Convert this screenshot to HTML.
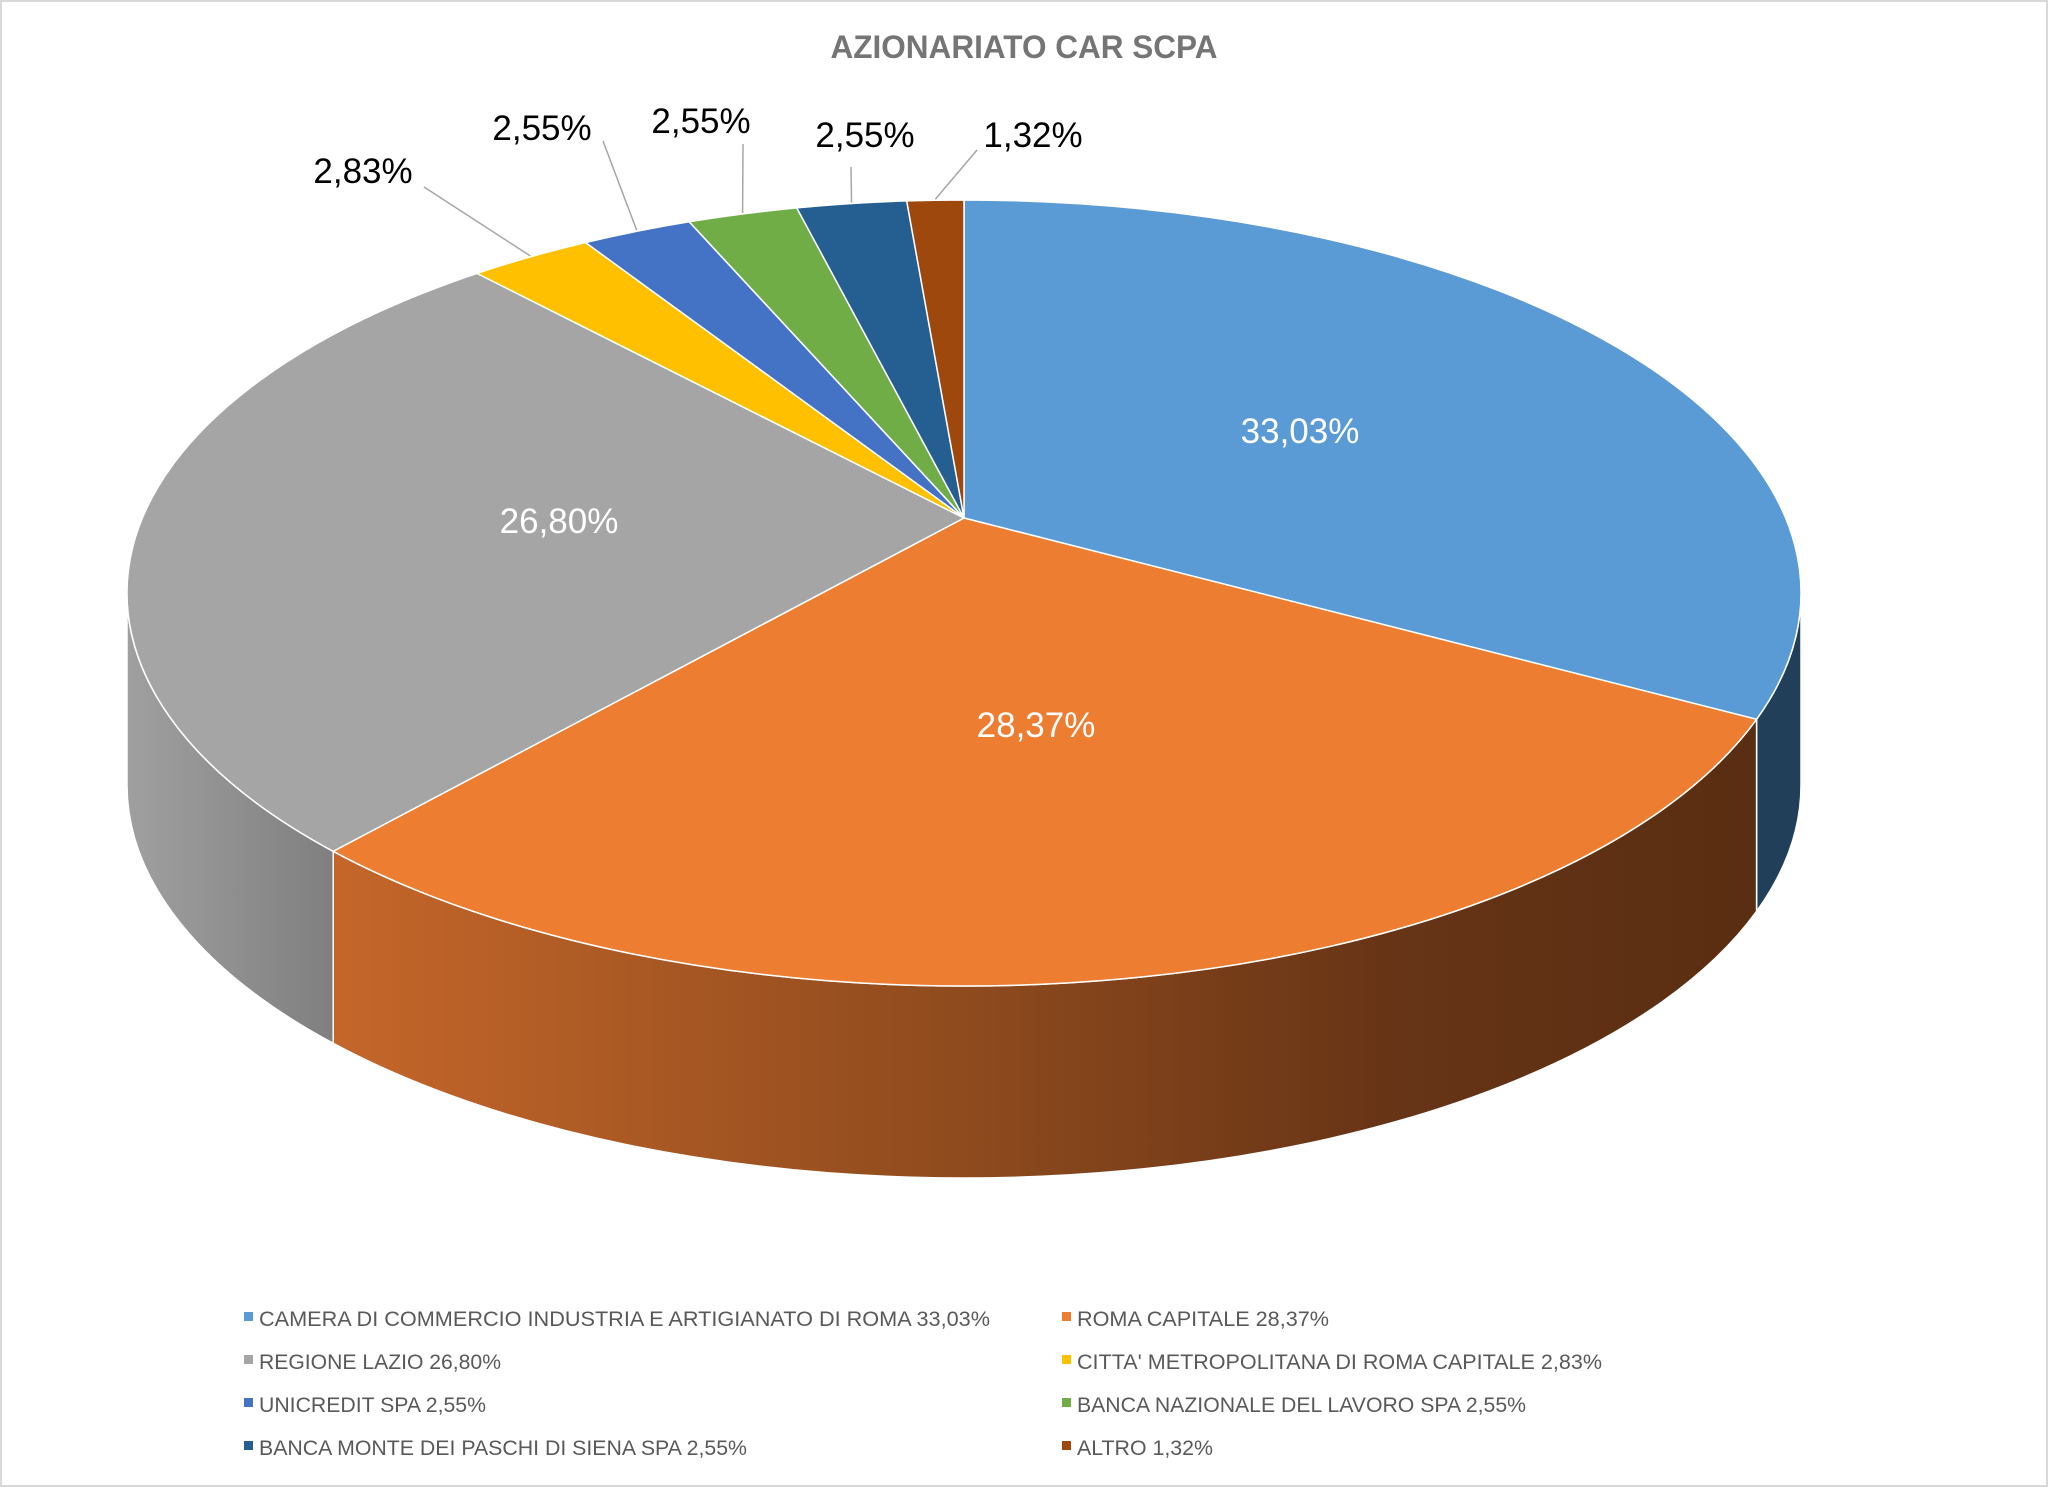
<!DOCTYPE html>
<html><head><meta charset="utf-8"><style>
html,body{margin:0;padding:0;background:#fff}
svg{display:block}
text{font-family:"Liberation Sans",sans-serif}
</style></head><body>
<svg id="chart" width="2048" height="1487" viewBox="0 0 2048 1487" xmlns="http://www.w3.org/2000/svg">
<defs>
<linearGradient id="gOrange" x1="340" y1="0" x2="1740" y2="0" gradientUnits="userSpaceOnUse">
<stop offset="0" stop-color="#c4662a"/><stop offset="0.45" stop-color="#8e4a1d"/><stop offset="0.75" stop-color="#673416"/><stop offset="1" stop-color="#5a2e12"/></linearGradient>
<linearGradient id="gGray" x1="125" y1="0" x2="355" y2="0" gradientUnits="userSpaceOnUse">
<stop offset="0" stop-color="#a0a0a0"/><stop offset="1" stop-color="#7c7c7c"/></linearGradient>
</defs>
<rect x="1" y="1" width="2046" height="1485" fill="#fff" stroke="#d9d9d9" stroke-width="2"/>
<text x="1024" y="58" text-anchor="middle" font-size="32" font-weight="bold" fill="#757575" textLength="387" lengthAdjust="spacingAndGlyphs">AZIONARIATO CAR SCPA</text>
<g id="walls"></g>
<g id="slices"></g>
<g id="labels"></g>
<g id="legend"></g>
</svg>
<script>
const categories = ["CAMERA DI COMMERCIO INDUSTRIA E ARTIGIANATO DI ROMA","ROMA CAPITALE","REGIONE LAZIO","CITTA' METROPOLITANA DI ROMA CAPITALE","UNICREDIT SPA","BANCA NAZIONALE DEL LAVORO SPA","BANCA MONTE DEI PASCHI DI SIENA SPA","ALTRO"];
const values = [33.03,28.37,26.80,2.83,2.55,2.55,2.55,1.32];
const valueLabels = ["33,03%","28,37%","26,80%","2,83%","2,55%","2,55%","2,55%","1,32%"];

const colors = ["#5b9bd5","#ed7d31","#a5a5a5","#ffc000","#4472c4","#70ad47","#255e91","#9e480e"];
const wallFills = ["#213f58","url(#gOrange)","url(#gGray)","#b38700","#2f5089","#4e7a32","#1a4266","#6f3209"];
const ax=964, ay=518, cx=964, cy=593, rx=837, ry=393, depth=192, k=0.46;
const NS="http://www.w3.org/2000/svg";
function mk(tag,attrs,parent){const e=document.createElementNS(NS,tag);for(const a in attrs)e.setAttribute(a,attrs[a]);parent.appendChild(e);return e;}
function rim(deg){
  const r=deg*Math.PI/180;
  const dx=Math.sin(r)/rx, dy=-k*Math.cos(r)/ry, ox=(ax-cx)/rx, oy=(ay-cy)/ry;
  const a=dx*dx+dy*dy, b=2*(ox*dx+oy*dy), c=ox*ox+oy*oy-1;
  const t=(-b+Math.sqrt(b*b-4*a*c))/(2*a);
  return [ax+t*Math.sin(r), ay-t*k*Math.cos(r)];
}
function phi(p){let f=Math.atan2((p[0]-cx)/rx, -(p[1]-cy)/ry)*180/Math.PI; if(f<0)f+=360; return f;}
function E(f,dy){const r=f*Math.PI/180;return [cx+rx*Math.sin(r), cy-ry*Math.cos(r)+(dy||0)];}
const total=values.reduce((a,b)=>a+b,0);
const walls=document.getElementById('walls'), slices=document.getElementById('slices'), labels=document.getElementById('labels'), legend=document.getElementById('legend');
let acc=0; const angles=[];
values.forEach(v=>{const a0=acc/total*360; acc+=v; const a1=acc/total*360; angles.push([a0,a1]);});
angles.forEach(([a0,a1],i)=>{
  let f0=phi(rim(a0)), f1=phi(rim(a1)); if(i===angles.length-1 && f1<1) f1=360;
  if(f1<f0) f1+=360;
  const s=Math.max(f0,90), e=Math.min(f1,270);
  if(e<=s) return;
  const p0=E(s),p1=E(e),q1=E(e,depth),q0=E(s,depth);
  const d=`M${p0[0]},${p0[1]} A${rx},${ry} 0 0 1 ${p1[0]},${p1[1]} L${q1[0]},${q1[1]} A${rx},${ry} 0 0 0 ${q0[0]},${q0[1]} Z`;
  const w=mk('path',{d:d,fill:wallFills[i],stroke:'#fff','stroke-width':1.5},walls);
  
  
});
angles.forEach(([a0,a1],i)=>{
  const p0=rim(a0),p1=rim(a1);
  let f0=phi(p0), f1=phi(p1); if(f1<=f0) f1+=360;
  const large=(f1-f0)>180?1:0;
  const d=`M${ax},${ay} L${p0[0]},${p0[1]} A${rx},${ry} 0 ${large} 1 ${p1[0]},${p1[1]} Z`;
  const s=mk('path',{d:d,fill:colors[i],stroke:'#fff','stroke-width':1.5},slices);
  
  
});
const inside=[[1300,443],[1036,737],[559,533]];
const outside=[[363,183],[542,140],[701,133],[865,147],[1033,147]];
const leaderStart=[[424,187],[603,141],[743,144],[851,167],[977,150]];
angles.forEach(([a0,a1],i)=>{
  let t;
  if(i<3){
    t=mk('text',{x:inside[i][0],y:inside[i][1],'text-anchor':'middle','font-size':35,fill:'#fff'},labels);
  } else {
    const j=i-3; const m=rim((a0+a1)/2); const ls=leaderStart[j];
    const ln=mk('polyline',{points:`${ls[0]},${ls[1]} ${m[0]},${m[1]-1}`,fill:'none',stroke:'#a6a6a6','stroke-width':1.5},labels);
    
    
    t=mk('text',{x:outside[j][0],y:outside[j][1],'text-anchor':'middle','font-size':35,fill:'#000'},labels);
  }
  t.textContent=valueLabels[i];
  
  
});
const legW=[731,252,242,525,227,449,488,136];
categories.forEach((c,i)=>{
  const col=i%2,row=Math.floor(i/2);
  const x=col?1062:244, y=1326+row*43;
  const g=mk('g',{},legend);
  
  
  mk('rect',{x:x,y:y-14,width:9,height:9,fill:colors[i]},g);
  const t=mk('text',{x:x+15,y:y,'font-size':21,fill:'#595959',textLength:legW[i],lengthAdjust:'spacingAndGlyphs'},g);
  t.textContent=c+' '+valueLabels[i];
  
  
});
</script>
</body></html>
